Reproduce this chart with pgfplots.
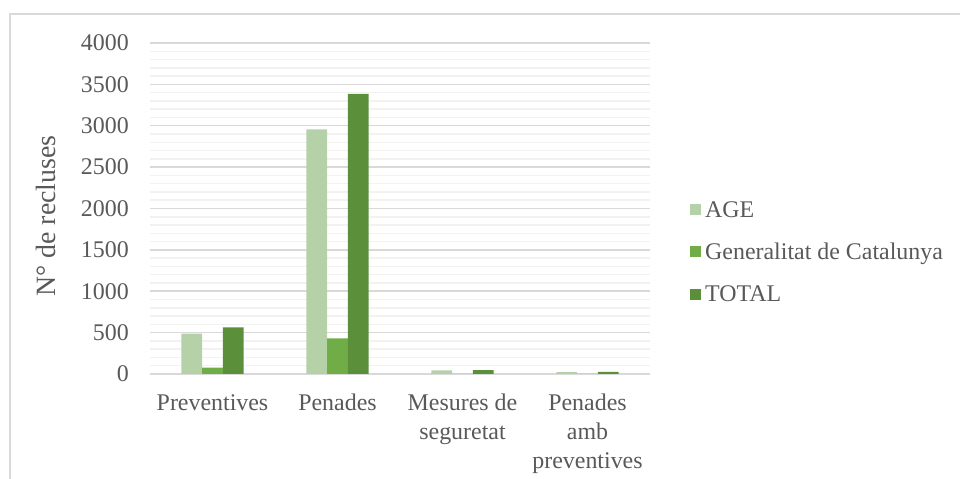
\documentclass[border=0pt]{standalone}
\usepackage{fontspec}
\setmainfont{Liberation Serif}
\usepackage{pgfplots}
\pgfplotsset{compat=1.18}
\definecolor{txt}{HTML}{595959}
\definecolor{cAGE}{HTML}{B5D1A7}
\definecolor{cGen}{HTML}{70AD47}
\definecolor{cTot}{HTML}{5B8F3A}
\definecolor{gridc}{HTML}{D9D9D9}
\definecolor{mgridc}{HTML}{F2F2F2}
\begin{document}
\begin{tikzpicture}
\path[use as bounding box] (0,0) rectangle (960bp,479bp);
\draw[gridc, line width=1.5bp] (10bp,0bp) -- (10bp,465bp) -- (960bp,465bp);
\begin{axis}[
  at={(150bp,105bp)}, anchor=south west,
  scale only axis, width=500bp, height=331bp,
  xmin=-0.5, xmax=3.5, ymin=0, ymax=4000,
  ybar=0pt, bar width=20.8bp,
  axis x line*=bottom, axis y line*=left,
  x axis line style={gridc, line width=1.5bp},
  y axis line style={draw=none},
  major tick length=0pt, minor tick length=0pt,
  xtick={0,1,2,3},
  xticklabels={Preventives, Penades, {Mesures de\\seguretat}, {Penades\\amb\\preventives}},
  x tick label style={align=center, text=txt, font=\fontsize{24}{29}\selectfont, inner sep=0pt, anchor=north, yshift=-20bp},
  ytick={0,500,...,4000}, minor y tick num=4,
  /pgf/number format/1000 sep={},
  /pgf/number format/assume math mode=true,
  yticklabel style={text=txt, font=\fontsize{24}{29}\selectfont, inner sep=0pt, anchor=east, xshift=-21bp},
  ymajorgrids, yminorgrids,
  major grid style={gridc, line width=1.5bp},
  minor grid style={mgridc, line width=1.5bp},
  ylabel={N° de recluses},
  ylabel style={at={(axis description cs:-0.208,0.477)}, anchor=center, text=txt, font=\fontsize{28}{32}\selectfont},
  legend style={at={(axis description cs:1.08,0.528)}, anchor=north west, draw=none, fill=none,
    font=\fontsize{24}{29}\selectfont, text=txt, row sep=20.5bp, inner sep=0pt,
    nodes={inner sep=2bp}},
  legend cell align=left,
  legend image code/.code={\path[fill=none, draw=none] (0bp,-1bp) rectangle (13bp,10bp);\fill[#1, overlay] (0bp,-5bp) rectangle (11bp,6bp);},
]
\addplot[fill=cAGE, draw=none] coordinates {(0,487) (1,2955) (2,45) (3,24)};
\addplot[fill=cGen, draw=none] coordinates {(0,76) (1,430) (2,3) (3,3)};
\addplot[fill=cTot, draw=none] coordinates {(0,563) (1,3385) (2,48) (3,27)};
\legend{AGE, Generalitat de Catalunya, TOTAL}
\end{axis}
\end{tikzpicture}
\end{document}
